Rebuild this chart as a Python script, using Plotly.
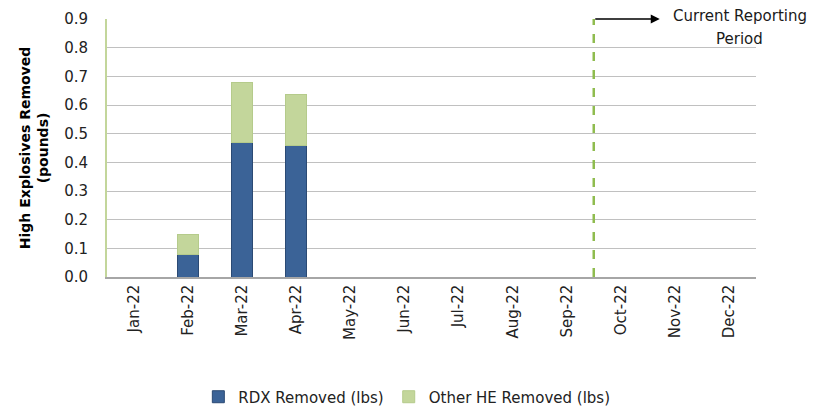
import plotly.graph_objects as go

months = ["Jan-22", "Feb-22", "Mar-22", "Apr-22", "May-22", "Jun-22",
          "Jul-22", "Aug-22", "Sep-22", "Oct-22", "Nov-22", "Dec-22"]
rdx_removed = [0, 0.08, 0.47, 0.46, 0, 0, 0, 0, 0, 0, 0, 0]
other_he_removed = [0, 0.07, 0.21, 0.175, 0, 0, 0, 0, 0, 0, 0, 0]
y_ticks = [0.0, 0.1, 0.2, 0.3, 0.4, 0.5, 0.6, 0.7, 0.8, 0.9]
reporting_boundary = 8.5   # between Sep-22 and Oct-22
arrow_end = 9.72

FONT = "DejaVu Sans"

fig = go.Figure()
fig.add_trace(go.Bar(
    x=months, y=rdx_removed, name="RDX Removed (lbs)",
    marker=dict(color="#3b6397", line=dict(color="#2b4a74", width=1)),
    width=0.39,
))
fig.add_trace(go.Bar(
    x=months, y=other_he_removed, name="Other HE Removed (lbs)",
    marker=dict(color="#c3d69b", line=dict(color="#b5cb8b", width=1)),
    width=0.39,
))

fig.add_shape(type="line", xref="x", yref="y",
              x0=reporting_boundary, x1=reporting_boundary, y0=0, y1=0.9,
              line=dict(color="#8fbc4f", width=2.5, dash="dash"))

fig.add_annotation(x=arrow_end, y=0.9, ax=reporting_boundary, ay=0.9,
                   xref="x", yref="y", axref="x", ayref="y",
                   text="", showarrow=True, arrowhead=2, arrowsize=1.2,
                   arrowwidth=1.5, arrowcolor="#000000")
fig.add_annotation(x=0.975, y=1.012, xref="paper", yref="paper",
                   xanchor="center", yanchor="middle",
                   text="Current Reporting", showarrow=False,
                   font=dict(family=FONT, size=15, color="#1a1a1a"))
fig.add_annotation(x=0.975, y=0.922, xref="paper", yref="paper",
                   xanchor="center", yanchor="middle",
                   text="Period", showarrow=False,
                   font=dict(family=FONT, size=15, color="#1a1a1a"))

fig.update_layout(
    width=809, height=406,
    margin=dict(l=99, r=61, t=11, b=137, autoexpand=False),
    barmode="stack",
    plot_bgcolor="white", paper_bgcolor="white",
    font=dict(family=FONT, color="#222222"),
    showlegend=True,
    legend=dict(orientation="h", x=0.462, xanchor="center",
                y=-0.465, yanchor="middle",
                font=dict(family=FONT, size=15, color="#222222"),
                itemwidth=30, traceorder="normal"),
    xaxis=dict(categoryorder="array", categoryarray=months,
               tickangle=-90, tickfont=dict(size=15, family=FONT, color="#222222"),
               showline=True, linecolor="#a6a6a6", linewidth=1.5,
               showgrid=False, ticks="", range=[-0.5, 11.5], automargin=False),
    yaxis=dict(range=[0, 0.9], tickvals=y_ticks, tickformat=".1f",
               tickfont=dict(size=15, family=FONT, color="#222222"),
               showgrid=True, gridcolor="#c0c0c0", gridwidth=1,
               showline=True, linecolor="#c3d69b", linewidth=2,
               zeroline=False, ticks="", ticklabelstandoff=14, automargin=False,
               title=dict(text="<b>High Explosives Removed<br>(pounds)</b>",
                          font=dict(size=14, family=FONT, color="#000000"),
                          standoff=12)),
)

fig.write_html("out.html")
